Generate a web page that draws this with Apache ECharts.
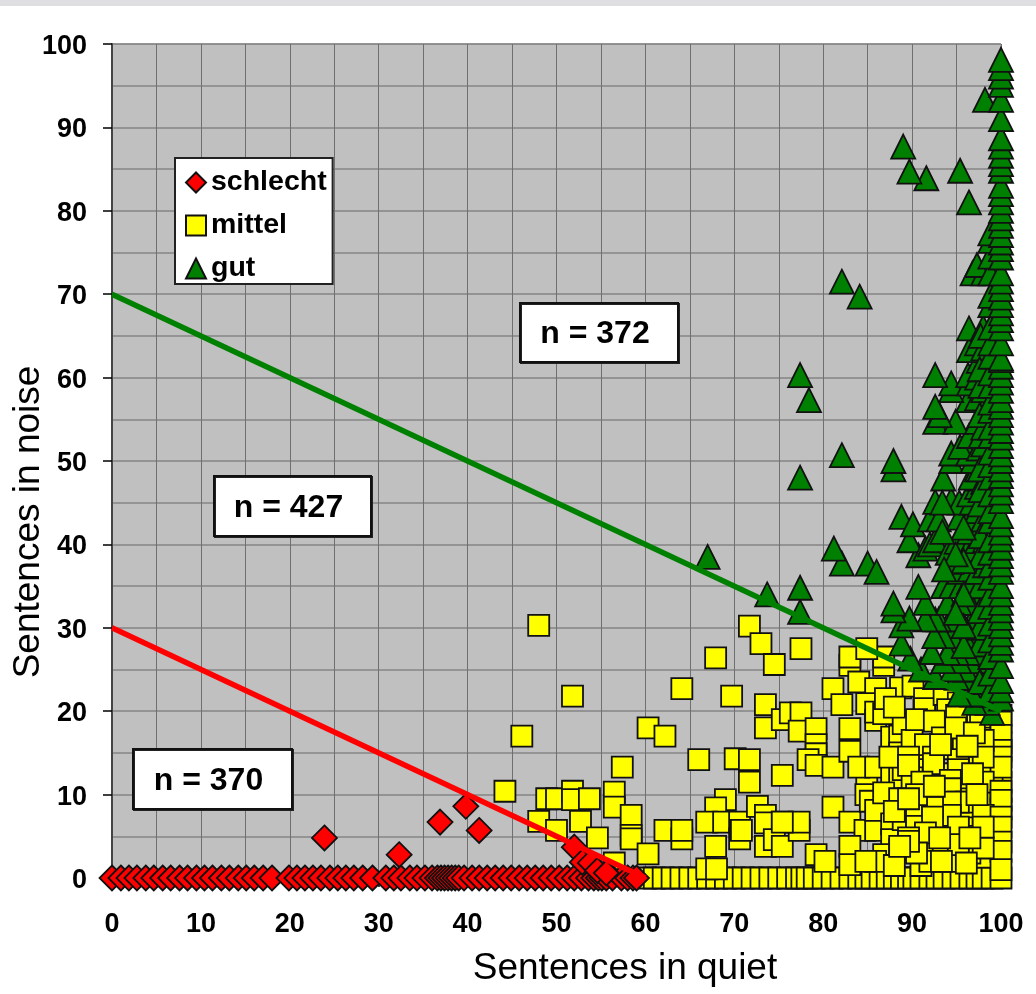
<!DOCTYPE html>
<html>
<head>
<meta charset="utf-8">
<style>html,body{margin:0;padding:0;background:#fff}#c{width:1036px;height:994px}</style>
<script src="https://cdn.jsdelivr.net/npm/echarts@6/dist/echarts.min.js"></script>
</head>
<body>
<div id="c"></div>
<script>
const schlechtZero = [0,1,1.9,2.8,3.8,4.7,5.7,6.6,7.6,8.5,9.5,10.4,11.3,12.3,13.2,14.2,15.1,16,17,18,19.9,20.8,21.7,22.6,23.5,24.5,25.4,26.3,27.2,28.2,29.3,30.8,31.7,32.5,33.5,34.3,35.2,36,36.6,37,37.4,37.8,38.2,38.6,39,39.6,40.5,41.3,42.2,43.1,44,44.9,45.8,46.7,47.6,48.5,49.4,50.3,51.2,52,52.8,53.6,54.2,54.7,55.1,55.6,56.3,57.3,58,58.6,59];
const schlechtAbove = [[23.9,4.8],[32.3,2.8],[36.9,6.7],[39.8,8.6],[41.3,5.7],[52,3.7],[52.9,1.9],[53.8,1.8],[54.6,0.9],[55.6,0.6]];
const mittelZero = [60,61,62,63,64,65,66,67,68,69,70,71,72,73,74,75,76,77,77.6,78.2,79,80,81,82,83,84,84.8,85.5,86.4,87.2,88,88.8,89.6,90.2,91,92,92.8,93.6,94.6,95.5,96.5,97.3,98,99,100];
const mittelAbove = [
[48,30.3],[51.8,21.8],[46.1,17],[44.2,10.4],[57.4,13.3],[48.9,9.5],[50,9.5],[51.8,10.4],[51.8,9.4],[53.7,9.5],[56.5,10.3],[56.5,8.5],[58.4,7.5],[58.4,5.1],[58.4,4.7],[48,6.8],[50,5.7],[52.7,6.8],[54.6,4.8],[56.5,1.8],[60.3,2.9],[62.2,5.7],[64.1,4.7],[64.1,5.7],[60.3,18],[62.2,17],[64.1,22.7],[67.9,26.4],[69.7,21.8],[71.7,30.2],[73,28.1],[74.5,25.6],[73.5,20.8],[73.5,18],[75.4,19],[76.3,19.8],[66,14.2],[70.1,14.3],[71.7,14.2],[71.7,11.5],[75.4,12.3],[69,9.4],[67.9,8.4],[66.9,6.7],[68.8,6.7],[70.6,6.7],[70.6,4.7],[70.8,5.7],[67.9,3.8],[66.9,1.1],[68,1.1],[72.6,8.6],[73.5,7.5],[73.5,6.6],[75.4,6.7],[73.5,3.8],[74.5,4.6],[75.4,3.8],
[77.5,27.5],[83,25.5],[83,26.5],[86.8,25.5],[86.8,26.5],[84.9,27.5],[81.1,22.7],[84,23.5],[85.9,22.7],[82.1,20.8],[84.9,20.9],[85.9,18.9],[85.9,19.9],[86.8,19.7],[88.7,22.8],[77.5,19.8],[77.3,17.6],[79.2,17.9],[79.2,16],[79.2,14.9],[78.3,14.2],[79.2,13.5],[81.1,13.3],[83,17.9],[83,15.2],[84.9,12],[84,13.3],[85.9,13.3],[87.7,16.9],[88.6,17],[88.6,15],[87.7,12.3],[88.6,12],[81.1,8.5],[77.3,5.7],[77.3,6.7],[75.4,6.7],[83,6.7],[84.7,5.7],[85.9,5.7],[83,3.8],[83,1.6],[79.2,2.8],[80.2,2],[84.8,10],[85.3,9.2],[85.9,8.1],[86.8,10.2],[88.6,9.5],[87.7,6.5],[87.7,4.6],[86.8,2.8],[85.9,2],[84.8,2],[88.6,3.4],
[90.1,23],[91.4,21.5],[91.4,20.3],[93.6,22],[95.2,21],[96.8,21],[98,20],[100,19.5],[94,20.2],[96.2,19.5],[98,18.7],[99,17.5],[96.5,17],[98,17.5],[95,16.5],[94,15.5],[96,14],[97.5,13.3],[100,16.2],[91,14],[89,13],[90.8,13],[92,10.5],[93.5,12.5],[95.5,11],[96.3,12],[98.4,10],[100,11.5],[100,8.3],[99,12.8],[96.2,8],[94.8,8],[96,7],[97.5,6],[98.5,5],[99,4.5],[97,5],[94,5],[92.8,4.5],[93.5,3.5],[91,1.5],[88,1.5],[92,2],[94.5,2],[98,2.5],[96.5,3],[89,7],[88,8],[90,12],[87.5,14.5],[89,18.5],[90,16.5],[87,21.5],[88,20.5],
[90.5,19],[92.5,18.8],[91.5,16],[93.4,16.8],[95,19.5],[94.9,18],[97.7,19.3],[100,18.7],[100,17.1],[100,15.3],[100,14.5],[100,13.3],[98,16.5],[98,14.5],[97,17.4],[95.2,14.2],[95.2,13],[92.4,14.5],[92.4,13.7],[89.6,14.5],[89.6,13.5],[91.1,11.5],[94.3,11.7],[94.3,10.7],[96.1,9.1],[98,11.5],[100,10.4],[100,9.3],[98,7.5],[100,7.3],[100,6.1],[100,4.3],[100,3.2],[100,1],[98,3.6],[98,6.1],[95.2,9.1],[94.3,9.1],[94.3,7.5],[95.2,6.1],[95.2,4],[96.1,1.8],[93.3,2],[90.5,7.5],[90.5,6.2],[92.3,8.5],[92.3,7.3],[91.5,5.4],[89.6,4.8],[90.5,3],[89.6,4.4],[93.1,4.8],[88.6,3.8],[96.5,4.8],[96.8,12.5],[97.3,10],[93.2,16],[96.2,15.8],[90.5,10],[89.6,9.5],[92.5,11]
];
const gutInner = [
[99,19.8],[98.5,21],[97,21],[99,22],[98,22],[96.8,22],[95.3,22],[99,24],[98.2,24],[97.2,24],[96.2,24],[95,24],[92.6,24.1],[97.5,25],[96,25],[94.5,25],[91,25],[99,26],[97.7,26],[96.5,26],[95.3,26],[93.5,26],[89.8,26.3],[98.5,27],[97.3,27],[96.2,27],[95,27],[94,27],[92.2,27.1],[99,29],[98,29],[97,29],[95.8,29],[94.5,29],[93.5,29],[92.5,29],[88.8,28.1],[88.8,30.3],[99,31],[98,31],[96.8,31],[95.5,31],[94.3,31],[93,31],[92.6,31],[91.5,31],[89.7,31.1],[87.9,32.1],[98.6,33],[97.5,33],[96.5,33],[95.3,33],[94,33],[91.5,33],[87.9,32.9],[73.7,34],[77.4,31.9],[77.4,34.8],[90.7,34.9],[93.5,35],[94.4,35],[95.5,35],[96.4,35.5],[97.6,35],[95.3,36.7],[96.5,37],[97.3,36.7],[98.2,37.5],[94.4,37.9],[90.7,38.7],[85,37.7],[86,36.7],[82.1,37.7],[81.2,39.5],[67,38.5],[89.7,40.5],[91.5,39.5],[92,40],[92.6,40.5],[94,39],[95,40.3],[96.3,39.4],[97.3,40.4],[98.2,40.5],[96.4,41.5],[97.7,42],[88.8,43.3],[90.1,42.4],[92,43],[93,43],[95.3,43.2],[96.4,43],[97.3,44],[98,43],[92.6,45.1],[94.4,45.3],[95.3,45],[96.7,45],[98,45.5],[96.4,46],[97.3,46.9],[97.3,47.9],[93.5,47.9],[96.6,48],[98,47.5],[77.4,48],[87.9,49],[87.9,50],[94.4,50],[97.3,49],[98,50],[96.8,50],[94.4,50.9],[96.3,50.9],[95.4,51.7],[82.1,50.7],[97.5,51.5],[98,52],[96.4,53],[97.7,53],[92.6,54.7],[94.9,54.7],[97.3,54.7],[98,54],[93.1,55.5],[92.6,56.5],[96.3,57.3],[97.3,57.5],[98.3,56.7],[94.4,58.5],[94.4,59.3],[96.4,59.3],[98,58.5],[92.6,60.3],[96.3,60.3],[97.3,60],[98,61],[97.5,62],[78.4,57.3],[77.4,60.3],[96.4,63.3],[97.3,64.1],[98,63.5],[96.4,65.9],[98,66],[84.1,69.7],[82.1,71.5],[96.8,72.5],[98,72.5],[97.3,73.5],[96.4,81],[95.4,84.8],[91.6,83.9],[89.7,84.7],[89,87.7],[98.2,93.3],
[97.6,23.5],[97.6,28],[97.6,30],[97.6,32],[97.6,38.5],[97.7,41],[97.6,44.8],[97.7,46.5],[97.6,49],[97.6,55.5],[97.7,59],[97.6,61],[97.7,65],[95.8,27.8],[95.8,30.2],[95.8,34],[95.8,38],[95.8,42],[94.9,31.8],[94.9,38.8],[93.6,37],[93.4,41.5],[93.4,45],[99.4,40],[99.4,46],[99.4,52],[99.4,58],[99.4,63],
[98.8,22.5],[98.8,24.5],[98.8,26.5],[98.8,28.5],[98.8,30.5],[98.8,32.5],[98.8,34],[98.8,36],[98.8,37.5],[98.8,39],[98.8,40.5],[98.8,42.8],[98.8,44],[98.8,46],[98.8,48],[98.8,49.5],[98.8,51],[98.8,53],[98.8,54],[98.8,56],[98.8,57],[98.8,59],[98.8,60.5],[98.8,62.5],[98.8,64.1],[98.8,66],[98.8,68.7],[98.8,69.8],[98.8,72.5],[98.8,74.5],[98.8,76.4],[98.8,77.3]
];
const gutEdge = [21.5,22.5,23.6,25.4,27.4,28.2,29.2,30.2,31.2,32.1,33,34,35,36.7,37.6,38.6,39.6,40.6,41.4,42.4,43.4,45.2,46.2,47.2,48.2,49,50,50.8,51.8,52.8,53.6,54.6,55.5,56.5,57.3,58.4,59.4,60.3,61.3,62.1,62.3,64.1,65.9,66.9,67.7,68.7,69.6,70.6,71.5,72.5,74.4,75.4,76.2,77.1,78.2,79.1,80,81,82,83,84.8,85.6,86.6,87.7,88.7,91,93.3,95.1,96.1,97.1,98.1];
const greenLine = [[0,70],[100,20]];
const redLine = [[0,30],[60,0]];
const legendNames = ['schlecht','mittel','gut'];
const annotations = [
  {text:'n = 372', x:520, y:303, w:158, h:59},
  {text:'n = 427', x:214, y:476, w:157, h:60},
  {text:'n = 370', x:133, y:749, w:159, h:60}
];

const schlecht = schlechtZero.map(v => [v,0]).concat(schlechtAbove);
const mittel = mittelZero.map(v => [v,0]).concat(mittelAbove);
const gut = gutInner.concat(gutEdge.map(v => [100,v]));

const FONT = '"Liberation Sans", Arial, sans-serif';
const BORDER = {borderColor:'#111', borderWidth:1.8, opacity:1};

const graphics = [
  {type:'rect', silent:true, z:0, shape:{x:0,y:0,width:1036,height:6}, style:{fill:'#dfdfe1'}},
  {type:'text', silent:true, x:625, y:969, style:{text:'Sentences in quiet', fill:'#000', font:'37px '+FONT, textAlign:'center', textVerticalAlign:'middle'}},
  {type:'text', silent:true, x:29, y:522, rotation:Math.PI/2, style:{text:'Sentences in noise', fill:'#000', font:'37px '+FONT, textAlign:'center', textVerticalAlign:'middle'}}
];
annotations.forEach(a => {
  graphics.push({type:'rect', silent:true, z:20, shape:{x:a.x,y:a.y,width:a.w,height:a.h}, style:{fill:'#fff', stroke:'#111', lineWidth:2, shadowColor:'#222', shadowOffsetX:1, shadowOffsetY:1, shadowBlur:0}});
  graphics.push({type:'text', silent:true, z:21, x:a.x+a.w/2-4, y:a.y+a.h/2+2, style:{text:a.text, fill:'#000', font:'bold 32px '+FONT, textAlign:'center', textVerticalAlign:'middle'}});
});

const chart = echarts.init(document.getElementById('c'), null, {renderer:'canvas'});
chart.setOption({
  animation:false,
  backgroundColor:'#fff',
  grid:{left:112, right:35, top:44, bottom:116, show:true, backgroundColor:'#c0c0c0', borderColor:'#8a8a8a', borderWidth:1},
  xAxis:{type:'value', min:0, max:100, interval:10,
    axisLine:{show:true, onZero:false, lineStyle:{color:'#444', width:2}},
    axisTick:{show:true, length:9, lineStyle:{color:'#000', width:1.5}},
    axisLabel:{color:'#000', fontFamily:FONT, fontWeight:'bold', fontSize:27, margin:33, showMinLabel:true, showMaxLabel:true},
    splitLine:{show:true, lineStyle:{color:'#6f6f6f', width:1}},
    minorTick:{show:false, splitNumber:2},
    minorSplitLine:{show:true, lineStyle:{color:'#6f6f6f', width:1}}
  },
  yAxis:{type:'value', min:0, max:100, interval:10,
    axisLine:{show:true, onZero:false, lineStyle:{color:'#444', width:2}},
    axisTick:{show:true, length:9, lineStyle:{color:'#000', width:1.5}},
    axisLabel:{margin:25, showMinLabel:true, showMaxLabel:true,
      formatter:v => '{t|' + v + '}',
      rich:{t:{color:'#000', fontFamily:FONT, fontWeight:'bold', fontSize:27, padding:[5,0,0,0]}}
    },
    splitLine:{show:true, lineStyle:{color:'#858585', width:1.5}},
    minorTick:{show:false, splitNumber:2},
    minorSplitLine:{show:true, lineStyle:{color:'#858585', width:1.5}}
  },
  legend:{
    show:true, orient:'vertical', left:175, top:158, data:legendNames,
    backgroundColor:'#fff', borderColor:'#222', borderWidth:2,
    padding:[10,6,1,10], itemGap:14, itemWidth:20, itemHeight:20, selectedMode:false, z:20,
    textStyle:{color:'#000', fontFamily:FONT, fontWeight:'bold', fontSize:28.5}
  },
  graphic:graphics,
  series:[
    {name:'mittel', type:'scatter', data:mittel, symbol:'rect', symbolSize:21, clip:false, z:3, itemStyle:Object.assign({color:'#ffff00'},BORDER), silent:true},
    {name:'schlecht', type:'scatter', data:schlecht, symbol:'diamond', symbolSize:25, clip:false, z:4, itemStyle:Object.assign({color:'#ff0000'},BORDER), silent:true},
    {name:'gut', type:'scatter', data:gut, symbol:'triangle', symbolSize:24, clip:false, z:5, itemStyle:Object.assign({color:'#008000'},BORDER), silent:true},
    {name:'grenze gut', type:'line', data:greenLine, showSymbol:false, clip:false, z:6, lineStyle:{color:'#008000', width:5.5}, silent:true},
    {name:'grenze schlecht', type:'line', data:redLine, showSymbol:false, clip:false, z:6, lineStyle:{color:'#ff0000', width:5.5}, silent:true}
  ]
});
</script>
</body>
</html>
